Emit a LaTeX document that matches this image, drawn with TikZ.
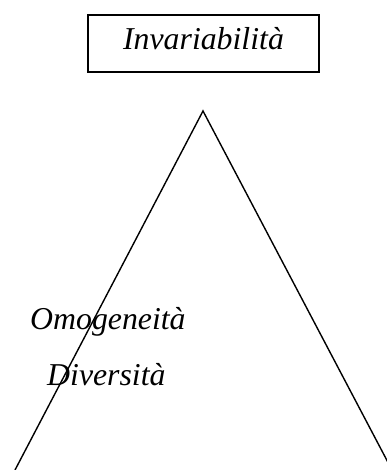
\documentclass[tikz,border=0pt]{standalone}
\usepackage{fontspec}
\setmainfont{Liberation Serif}
\begin{document}
\begin{tikzpicture}[x=1pt,y=-1pt,
  lab/.style={font=\fontsize{31.8}{38}\selectfont\itshape, inner sep=0pt},
  boxstyle/.style={draw, line width=1.7pt, minimum width=231pt, minimum height=57pt, inner sep=0pt},
  side/.style={line width=1.4pt}]
\useasboundingbox (0,0) rectangle (387,470);
\clip (0,0) rectangle (387,470);
\node[boxstyle] (inv) at (203.5,43.5) {};
\node[lab, anchor=base] (invt) at (203.5,50) {Invariabilità};
\coordinate (apex) at (203,111);
\coordinate (bl) at (15,470);
\coordinate (br) at (392,470);
\draw[side] (bl) -- (apex) -- (br);
\node[lab, anchor=base west] (omo) at (30,329) {Omogeneità};
\node[lab, anchor=base west] (div) at (47,385.5) {Diversità};
\end{tikzpicture}
\end{document}
